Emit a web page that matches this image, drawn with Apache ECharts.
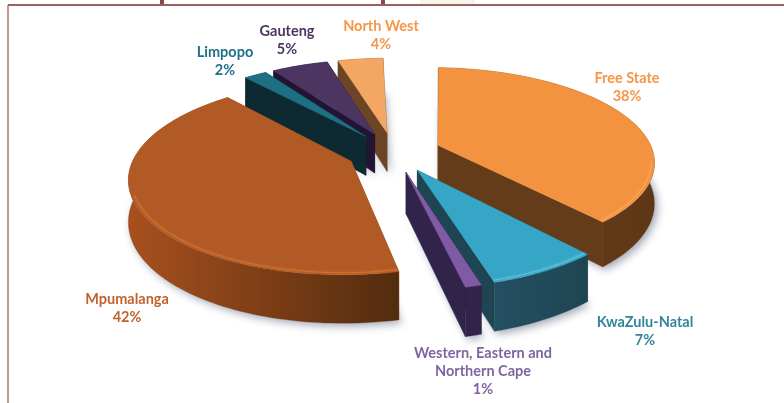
<!DOCTYPE html>
<html><head><meta charset="utf-8">
<style>html,body{margin:0;padding:0;background:#fff}#c{width:784px;height:403px}</style>
<script src="https://cdn.jsdelivr.net/npm/echarts@6/dist/echarts.min.js"></script>
</head><body><div id="c"></div>
<script>
// Data, clockwise from the top of the pie
const categories = ['Free State','KwaZulu-Natal','Western, Eastern and\nNorthern Cape','Mpumalanga','Limpopo','Gauteng','North West'];
const shares = [38,7,1,42,2,5,4];
// Colours per category
const topColors  = ['#F39340','#36A6C6','#7F5BA5','#B25A26','#1F6F84','#4C3560','#F4A763'];
const wallColors = ['#653C19','#1F4553','#32234B','#7A3F16','#0D2A32','#221433','#6B4525'];
const rimLeft    = ['#704219','#235061','#32234B','#A8501F','#0D2A32','#221433','#6B4525'];
const rimRight   = ['#5E3716','#1F4553','#32234B','#522C0E','#0D2A32','#221433','#6B4525'];
const glowColors = ['#FFB36B','#7FD0E6','#A583CC','#E57F35','#1F6F84','#4C3560','#F4A763'];
const labelColors= ['#F79646','#31859C','#8064A2','#C0622D','#1F7088','#4C3560','#F79646'];
const labelCenters = [[627,87],[645,331],[483,371],[127,308],[225,61],[287,40],[381,35]];

// Projection of the tilted pie
const G = {cx:394, cy:152, A:92, B:215, p:0.16, explode:0.22, depth:40, start:2};
const total = 100; // the shares are rounded percentages
const spans = []; { let a = G.start; shares.forEach(s=>{ const d = s/total*360; spans.push([a,a+d]); a+=d; }); }
const rad = d => d*Math.PI/180;
function project(X,Z,drop){ const w = 1-G.p*Z; return [G.cx+G.B*X/w, G.cy+(G.A*Z+(drop||0))/w]; }
function apexOf(i){ const m = rad((spans[i][0]+spans[i][1])/2); return [G.explode*Math.sin(m), -G.explode*Math.cos(m)]; }
function onRim(i,deg,r,drop){ const a = apexOf(i); const t = rad(deg); return project(a[0]+r*Math.sin(t), a[1]-r*Math.cos(t), drop); }
function arc(i,drop,r,from,to){ const n = Math.max(3,Math.ceil((to-from)/1.5)); const out=[]; for(let k=0;k<=n;k++) out.push(onRim(i,from+(to-from)*k/n,r==null?1:r,drop)); return out; }
const drawOrder = shares.map((_,i)=>i).sort((a,b)=>apexOf(a)[1]-apexOf(b)[1]);

function render(params, api){
  const i = api.value(0);
  const [from,to] = spans[i];
  const a = apexOf(i);
  const apexT = project(a[0],a[1],0), apexB = project(a[0],a[1],G.depth);
  const topArc = arc(i,0,1,from,to), botArc = arc(i,G.depth,1,from,to);
  const children = [];
  children.push({type:'polygon',shape:{points:[apexB].concat(botArc)},
    style:{fill:'#ffffff',shadowBlur:9,shadowColor:'rgba(70,80,110,0.5)',shadowOffsetX:3,shadowOffsetY:3}});
  [[topArc[0],botArc[0]],[topArc[topArc.length-1],botArc[botArc.length-1]]].forEach(e=>{
    children.push({type:'polygon',shape:{points:[apexT,e[0],e[1],apexB]},style:{fill:wallColors[i],stroke:wallColors[i],lineWidth:0.5}});
  });
  let minX=1e9,maxX=-1e9; topArc.concat(botArc).forEach(p=>{minX=Math.min(minX,p[0]);maxX=Math.max(maxX,p[0]);});
  children.push({type:'polygon',shape:{points:topArc.concat(botArc.slice().reverse())},
    style:{fill:new echarts.graphic.LinearGradient(minX,0,maxX,0,[{offset:0,color:rimLeft[i]},{offset:1,color:rimRight[i]}],true),stroke:rimRight[i],lineWidth:0.3}});
  children.push({type:'polygon',shape:{points:[apexT].concat(topArc)},style:{fill:topColors[i],stroke:topColors[i],lineWidth:0.5}});
  const fStart = Math.max(from,100), fEnd = Math.min(to,250);
  if(fEnd>fStart && to-from>10){
    children.push({type:'polyline',shape:{points:arc(i,0,0.985,fStart,fEnd)},
      style:{fill:null,stroke:glowColors[i],lineWidth:1.1,opacity:0.55,shadowBlur:3,shadowColor:glowColors[i]}});
  }
  return {type:'group',children};
}

const labelGraphics = categories.map((c,i)=>({
  type:'text',
  x:labelCenters[i][0], y:labelCenters[i][1],
  style:{text:c+'\n'+shares[i]+'%',fill:labelColors[i],font:'bold 14.5px Lato',lineHeight:18,align:'center',verticalAlign:'middle'}
}));

const frame = [
  {type:'rect',shape:{x:420,y:0,width:55,height:4},style:{fill:'#F7F6E6'}},
  {type:'rect',shape:{x:160,y:0,width:4,height:4},style:{fill:'#8A4A4A'}},
  {type:'rect',shape:{x:381,y:0,width:4,height:4},style:{fill:'#8A4A4A'}},
  {type:'line',shape:{x1:8,y1:5,x2:784,y2:5},style:{stroke:'#7B2E2E',lineWidth:1.4}},
  {type:'line',shape:{x1:8,y1:5,x2:8,y2:403},style:{stroke:'#9B5050',lineWidth:1.2}}
];

const chart = echarts.init(document.getElementById('c'),null,{renderer:'canvas'});
chart.setOption({
  animation:false,
  backgroundColor:'#ffffff',
  graphic:{elements:frame.concat(labelGraphics)},
  series:[{type:'custom',coordinateSystem:'none',renderItem:render,silent:true,
    data:drawOrder.map(i=>[i])}]
});
</script></body></html>
